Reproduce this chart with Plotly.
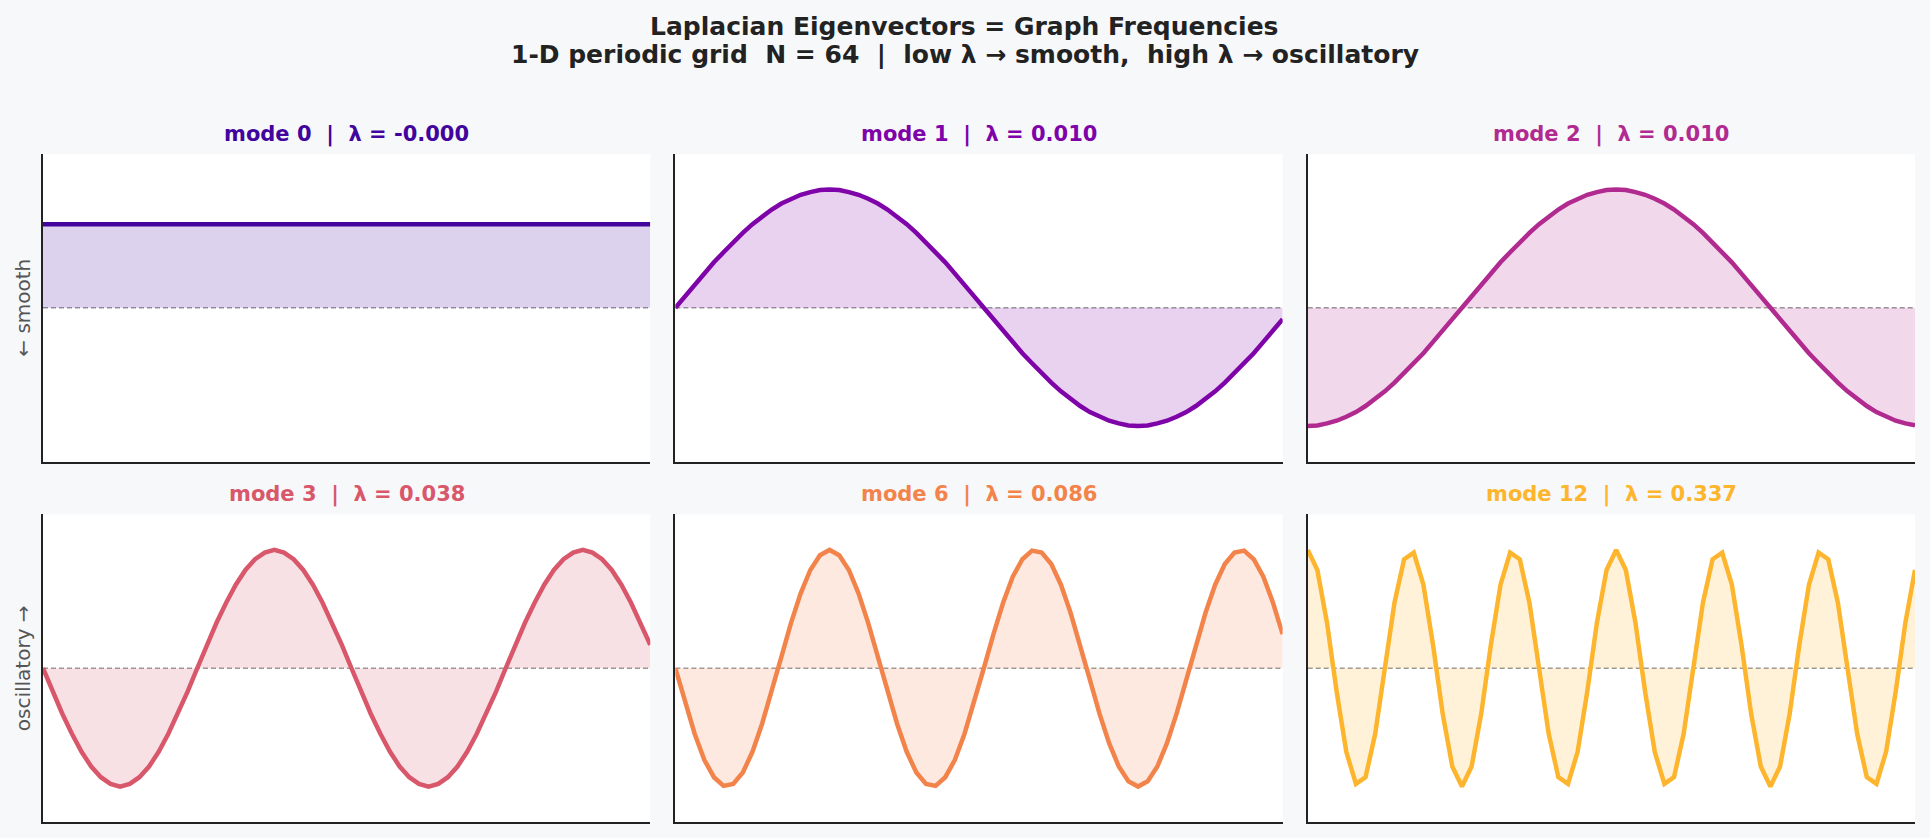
import plotly.graph_objects as go
from plotly.subplots import make_subplots

# 1-D periodic grid, N = 64 nodes; six Laplacian eigenvectors
NODE = list(range(64))

MODE_IDS = [0, 1, 2, 3, 6, 12]
EIGVALS = ["-0.000", "0.010", "0.010", "0.038", "0.086", "0.337"]
COLORS = ["#41049d", "#7e03a8", "#b12a90", "#d8576b", "#f2844b", "#fdb52e"]
ROW_LABELS = ["\u2190 smooth", "oscillatory \u2192"]

mode0 = [
    0.125, 0.125, 0.125, 0.125, 0.125, 0.125, 0.125, 0.125, 0.125, 0.125, 0.125, 0.125, 0.125, 0.125, 0.125, 0.125,
    0.125, 0.125, 0.125, 0.125, 0.125, 0.125, 0.125, 0.125, 0.125, 0.125, 0.125, 0.125, 0.125, 0.125, 0.125, 0.125,
    0.125, 0.125, 0.125, 0.125, 0.125, 0.125, 0.125, 0.125, 0.125, 0.125, 0.125, 0.125, 0.125, 0.125, 0.125, 0.125,
    0.125, 0.125, 0.125, 0.125, 0.125, 0.125, 0.125, 0.125, 0.125, 0.125, 0.125, 0.125, 0.125, 0.125, 0.125, 0.125,
]
mode1 = [
    0.0, 0.017, 0.035, 0.051, 0.068, 0.083, 0.098, 0.112, 0.125, 0.137, 0.147, 0.156, 0.163, 0.169, 0.173, 0.176,
    0.177, 0.176, 0.173, 0.169, 0.163, 0.156, 0.147, 0.137, 0.125, 0.112, 0.098, 0.083, 0.068, 0.051, 0.035, 0.017,
    0.0, -0.017, -0.035, -0.051, -0.068, -0.083, -0.098, -0.112, -0.125, -0.137, -0.147, -0.156, -0.163, -0.169, -0.173, -0.176,
    -0.177, -0.176, -0.173, -0.169, -0.163, -0.156, -0.147, -0.137, -0.125, -0.112, -0.098, -0.083, -0.068, -0.051, -0.035, -0.017,
]
mode2 = [
    -0.177, -0.176, -0.173, -0.169, -0.163, -0.156, -0.147, -0.137, -0.125, -0.112, -0.098, -0.083, -0.068, -0.051, -0.035, -0.017,
    0.0, 0.017, 0.035, 0.051, 0.068, 0.083, 0.098, 0.112, 0.125, 0.137, 0.147, 0.156, 0.163, 0.169, 0.173, 0.176,
    0.177, 0.176, 0.173, 0.169, 0.163, 0.156, 0.147, 0.137, 0.125, 0.112, 0.098, 0.083, 0.068, 0.051, 0.035, 0.017,
    0.0, -0.017, -0.035, -0.051, -0.068, -0.083, -0.098, -0.112, -0.125, -0.137, -0.147, -0.156, -0.163, -0.169, -0.173, -0.176,
]
mode3 = [
    0.0, -0.035, -0.068, -0.098, -0.125, -0.147, -0.163, -0.173, -0.177, -0.173, -0.163, -0.147, -0.125, -0.098, -0.068, -0.035,
    0.0, 0.035, 0.068, 0.098, 0.125, 0.147, 0.163, 0.173, 0.177, 0.173, 0.163, 0.147, 0.125, 0.098, 0.068, 0.035,
    0.0, -0.035, -0.068, -0.098, -0.125, -0.147, -0.163, -0.173, -0.177, -0.173, -0.163, -0.147, -0.125, -0.098, -0.068, -0.035,
    0.0, 0.035, 0.068, 0.098, 0.125, 0.147, 0.163, 0.173, 0.177, 0.173, 0.163, 0.147, 0.125, 0.098, 0.068, 0.035,
]
mode6 = [
    0.0, -0.051, -0.098, -0.137, -0.163, -0.176, -0.173, -0.156, -0.125, -0.083, -0.035, 0.017, 0.068, 0.112, 0.147, 0.169,
    0.177, 0.169, 0.147, 0.112, 0.068, 0.017, -0.035, -0.083, -0.125, -0.156, -0.173, -0.176, -0.163, -0.137, -0.098, -0.051,
    0.0, 0.051, 0.098, 0.137, 0.163, 0.176, 0.173, 0.156, 0.125, 0.083, 0.035, -0.017, -0.068, -0.112, -0.147, -0.169,
    -0.177, -0.169, -0.147, -0.112, -0.068, -0.017, 0.035, 0.083, 0.125, 0.156, 0.173, 0.176, 0.163, 0.137, 0.098, 0.051,
]
mode12 = [
    0.177, 0.147, 0.068, -0.035, -0.125, -0.173, -0.163, -0.098, 0.0, 0.098, 0.163, 0.173, 0.125, 0.035, -0.068, -0.147,
    -0.177, -0.147, -0.068, 0.035, 0.125, 0.173, 0.163, 0.098, 0.0, -0.098, -0.163, -0.173, -0.125, -0.035, 0.068, 0.147,
    0.177, 0.147, 0.068, -0.035, -0.125, -0.173, -0.163, -0.098, 0.0, 0.098, 0.163, 0.173, 0.125, 0.035, -0.068, -0.147,
    -0.177, -0.147, -0.068, 0.035, 0.125, 0.173, 0.163, 0.098, 0.0, -0.098, -0.163, -0.173, -0.125, -0.035, 0.068, 0.147,
]
vectors = [mode0, mode1, mode2, mode3, mode6, mode12]

FONT = "DejaVu Sans"
SP = "\u00a0"
BG = "#f7f8fa"


def rgba(hex_color, a):
    h = hex_color.lstrip("#")
    r, g, b = int(h[0:2], 16), int(h[2:4], 16), int(h[4:6], 16)
    return f"rgba({r},{g},{b},{a})"


titles = [
    f"<b>mode {m}{SP}{SP}|{SP}{SP}\u03bb = {lam}</b>" for m, lam in zip(MODE_IDS, EIGVALS)
]

fig = make_subplots(
    rows=2,
    cols=3,
    subplot_titles=titles,
    horizontal_spacing=0.0134,
    vertical_spacing=0.0793,
)

for i, (vec, col) in enumerate(zip(vectors, COLORS)):
    r, c = i // 3 + 1, i % 3 + 1
    fig.add_trace(
        go.Scatter(
            x=NODE,
            y=vec,
            mode="lines",
            line=dict(color=col, width=4.5),
            fill="tozeroy",
            fillcolor=rgba(col, 0.18),
            showlegend=False,
            hoverinfo="skip",
        ),
        row=r,
        col=c,
    )
    fig.add_hline(
        y=0,
        line=dict(color="rgba(120,120,120,0.75)", width=1.5, dash="5px,3px"),
        layer="below",
        row=r,
        col=c,
    )

# colour the subplot titles like their curves
for ann, col in zip(fig.layout.annotations, COLORS):
    ann.font = dict(family=FONT, size=21, color=col)
    ann.yshift = 5

axis_style = dict(
    showline=True,
    linecolor="#222222",
    linewidth=1.5,
    mirror=False,
    showticklabels=False,
    ticks="",
    showgrid=False,
    zeroline=False,
)
fig.update_xaxes(range=[0, 63], **axis_style)
fig.update_yaxes(range=[-0.23, 0.23], **axis_style)

# row labels on the left
for k, lab in enumerate(ROW_LABELS):
    dom = fig.layout["yaxis" if k == 0 else "yaxis4"].domain
    fig.add_annotation(
        text=lab,
        xref="paper",
        yref="paper",
        x=-0.0107,
        y=(dom[0] + dom[1]) / 2,
        xanchor="center",
        yanchor="middle",
        textangle=-90,
        showarrow=False,
        font=dict(family=FONT, size=20, color="#555555"),
    )

# two-line suptitle, centred on the whole figure
suptitle = [
    "<b>Laplacian Eigenvectors = Graph Frequencies</b>",
    f"<b>1-D periodic grid{SP}{SP}N = 64{SP}{SP}|{SP}{SP}low \u03bb \u2192 smooth,"
    f"{SP}{SP}high \u03bb \u2192 oscillatory</b>",
]
for line, ypos in zip(suptitle, [1.191, 1.149]):
    fig.add_annotation(
        text=line,
        xref="paper",
        yref="paper",
        x=0.4925,
        y=ypos,
        xanchor="center",
        yanchor="middle",
        showarrow=False,
        font=dict(family=FONT, size=25, color="#222222"),
    )

fig.update_layout(
    width=1930,
    height=838,
    margin=dict(l=43, r=15, t=154, b=16),
    paper_bgcolor=BG,
    plot_bgcolor="white",
    font=dict(family=FONT, color="#222222"),
)

fig.write_html(
    "out.html",
    config={"displayModeBar": False},
    post_script=f"document.body.style.margin='0';document.body.style.background='{BG}';",
)
